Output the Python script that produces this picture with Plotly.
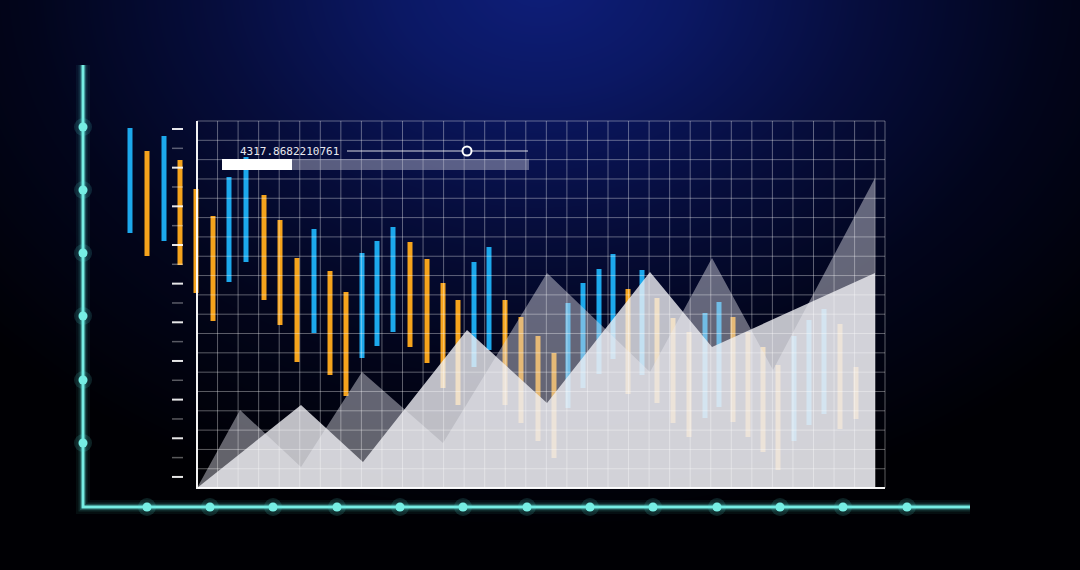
import numpy as np
import plotly.graph_objects as go

# ---------------- data ----------------
bar_x = [130, 147, 164, 180, 196, 213, 229, 246, 264, 280, 297, 314, 330, 346, 362, 377,
         393, 410, 427, 443, 458, 474, 489, 505, 521, 538, 554, 568, 583, 599, 613, 628,
         642, 657, 673, 689, 705, 719, 733, 748, 763, 778, 794, 809, 824, 840, 856]
bar_high = [442, 419, 434, 410, 381, 354, 393, 413, 375, 350, 312, 341, 299, 278, 317, 329,
            343, 328, 311, 287, 270, 308, 323, 270, 253, 234, 217, 267, 287, 301, 316, 281,
            300, 272, 252, 238, 257, 268, 253, 238, 223, 205, 234, 250, 261, 246, 203]
bar_low = [337, 314, 329, 305, 277, 249, 288, 308, 270, 245, 208, 237, 195, 174, 212, 224,
           238, 223, 207, 182, 165, 203, 220, 165, 147, 129, 112, 162, 182, 196, 211, 176,
           195, 167, 147, 133, 152, 163, 148, 133, 118, 100, 129, 145, 156, 141, 151]
bar_dir = ["b", "o", "b", "o", "o", "o", "b", "b", "o", "o", "o", "b", "o", "o", "b", "b",
           "b", "o", "o", "o", "o", "b", "b", "o", "o", "o", "o", "b", "b", "b", "b", "o",
           "b", "o", "o", "o", "b", "b", "o", "o", "o", "o", "b", "b", "b", "o", "o"]

light_x = [197, 301, 363, 467, 547, 650, 712, 875, 875]
light_y = [82, 165, 108, 240, 167, 298, 223, 297, 82]
dark_x = [197, 240, 301, 362, 443, 547, 650, 712, 773, 875, 875]
dark_y = [82, 160, 103, 198, 127, 297, 198, 312, 200, 392, 82]

label_value = "4317.8682210761"
slider_range = [347, 528]
slider_pos = 467
progress = [222, 292]
progress_track = [292, 529]

axis_v_dots = [443, 380, 317, 254, 190, 127]
axis_h_dots = [147, 210, 273, 337, 400, 463, 527, 590, 653, 717, 780, 843, 907]

W, H = 1080, 570
PANEL_X0, PANEL_X1, PANEL_XA = 197, 885, 875
PANEL_Y0, PANEL_Y1 = 82, 449

fig = go.Figure()

# ---------------- background radial gradient ----------------
gx = np.linspace(0, W, 121)
gy = np.linspace(0, H, 65)
XX, YY = np.meshgrid(gx, gy)
PY = H - YY
D = np.sqrt(((XX - 540) / 560.0) ** 2 + ((PY + 20) / 420.0) ** 2)
fig.add_trace(go.Heatmap(
    x=gx, y=gy, z=np.clip(D, 0, 1.3), zmin=0, zmax=1.3, zsmooth="best",
    showscale=False, hoverinfo="skip",
    colorscale=[[0, "rgb(14,30,122)"], [0.2, "rgb(11,24,100)"], [0.45, "rgb(6,13,60)"],
                [0.7, "rgb(2,5,28)"], [1, "rgb(0,0,4)"]]))

# ---------------- candle bars ----------------
cmap = {"b": "rgb(28,168,236)", "o": "rgb(245,163,28)"}
fig.add_trace(go.Bar(
    x=bar_x, y=[h - l for h, l in zip(bar_high, bar_low)], base=bar_low, width=5,
    marker=dict(color=[cmap[d] for d in bar_dir], line=dict(width=0)),
    hoverinfo="skip"))

# ---------------- area polygons ----------------
fig.add_trace(go.Scatter(x=dark_x, y=dark_y, fill="toself", mode="none",
                         fillcolor="rgba(210,210,222,0.47)", hoverinfo="skip"))
fig.add_trace(go.Scatter(x=light_x, y=light_y, fill="toself", mode="none",
                         fillcolor="rgba(238,238,242,0.80)", hoverinfo="skip"))

# ---------------- grid ----------------
gxs, gys = [], []
vlines = list(PANEL_X0 + 20.55 * np.arange(0, 34)) + [PANEL_X1]
for vx in vlines[1:]:
    gxs += [vx, vx, None]
    gys += [PANEL_Y0, PANEL_Y1, None]
for k in range(0, 20):
    hy = PANEL_Y1 - 19.32 * k
    gxs += [PANEL_X0, PANEL_X1, None]
    gys += [hy, hy, None]
fig.add_trace(go.Scatter(x=gxs, y=gys, mode="lines",
                         line=dict(color="rgba(255,255,255,0.36)", width=1), hoverinfo="skip"))
fig.add_trace(go.Scatter(x=[PANEL_X0, PANEL_X0, PANEL_X1], y=[PANEL_Y1, PANEL_Y0, PANEL_Y0],
                         mode="lines", line=dict(color="rgba(255,255,255,0.95)", width=2),
                         hoverinfo="skip"))

# ---------------- left ticks ----------------
tb_x, tb_y, td_x, td_y = [], [], [], []
for k in range(19):
    ty = 441 - 19.33 * k
    if k % 2 == 0:
        tb_x += [172, 183, None]; tb_y += [ty, ty, None]
    else:
        td_x += [172, 183, None]; td_y += [ty, ty, None]
fig.add_trace(go.Scatter(x=tb_x, y=tb_y, mode="lines",
                         line=dict(color="rgba(255,255,255,0.9)", width=2), hoverinfo="skip"))
fig.add_trace(go.Scatter(x=td_x, y=td_y, mode="lines",
                         line=dict(color="rgba(255,255,255,0.35)", width=1.5), hoverinfo="skip"))

# ---------------- cyan glowing axes ----------------
CY = "rgb(118,238,228)"
ax_x = [83, 83, 970]
ax_y = [505, 63, 63]
for w, a in [(14, 0.06), (9, 0.12), (6, 0.22)]:
    fig.add_trace(go.Scatter(x=ax_x, y=ax_y, mode="lines",
                             line=dict(color=f"rgba(90,230,220,{a})", width=w), hoverinfo="skip"))
fig.add_trace(go.Scatter(x=ax_x, y=ax_y, mode="lines", line=dict(color=CY, width=3),
                         hoverinfo="skip"))
dot_x = [83] * len(axis_v_dots) + axis_h_dots
dot_y = axis_v_dots + [63] * len(axis_h_dots)
fig.add_trace(go.Scatter(x=dot_x, y=dot_y, mode="markers",
                         marker=dict(size=18, color="rgba(90,230,220,0.15)"), hoverinfo="skip"))
fig.add_trace(go.Scatter(x=dot_x, y=dot_y, mode="markers",
                         marker=dict(size=9, color=CY), hoverinfo="skip"))

# ---------------- slider widget ----------------
fig.add_trace(go.Scatter(x=slider_range, y=[419, 419], mode="lines",
                         line=dict(color="rgba(255,255,255,0.85)", width=1), hoverinfo="skip"))
fig.add_trace(go.Scatter(x=[slider_pos], y=[419], mode="markers",
                         marker=dict(size=9, color="rgb(10,22,80)",
                                     line=dict(color="white", width=2)), hoverinfo="skip"))
fig.add_shape(type="rect", xref="x", yref="y", x0=progress_track[0], x1=progress_track[1],
              y0=400, y1=411, fillcolor="rgba(190,190,208,0.45)", line=dict(width=0))
fig.add_shape(type="rect", xref="x", yref="y", x0=progress[0], x1=progress[1],
              y0=400, y1=411, fillcolor="white", line=dict(width=0))
fig.add_annotation(x=238, y=419, xref="x", yref="y", text=label_value, showarrow=False,
                   xanchor="left", yanchor="middle",
                   font=dict(family="DejaVu Sans Mono", size=11, color="rgb(232,232,238)"))

fig.update_layout(
    width=W, height=H, autosize=False,
    margin=dict(l=0, r=0, t=0, b=0),
    paper_bgcolor="black", plot_bgcolor="black",
    showlegend=False, barmode="overlay",
    xaxis=dict(range=[0, W], visible=False, fixedrange=True),
    yaxis=dict(range=[0, H], visible=False, fixedrange=True),
)

fig.write_html("out.html", config={"displayModeBar": False},
               post_script="document.body.style.margin='0';document.body.style.overflow='hidden';")
